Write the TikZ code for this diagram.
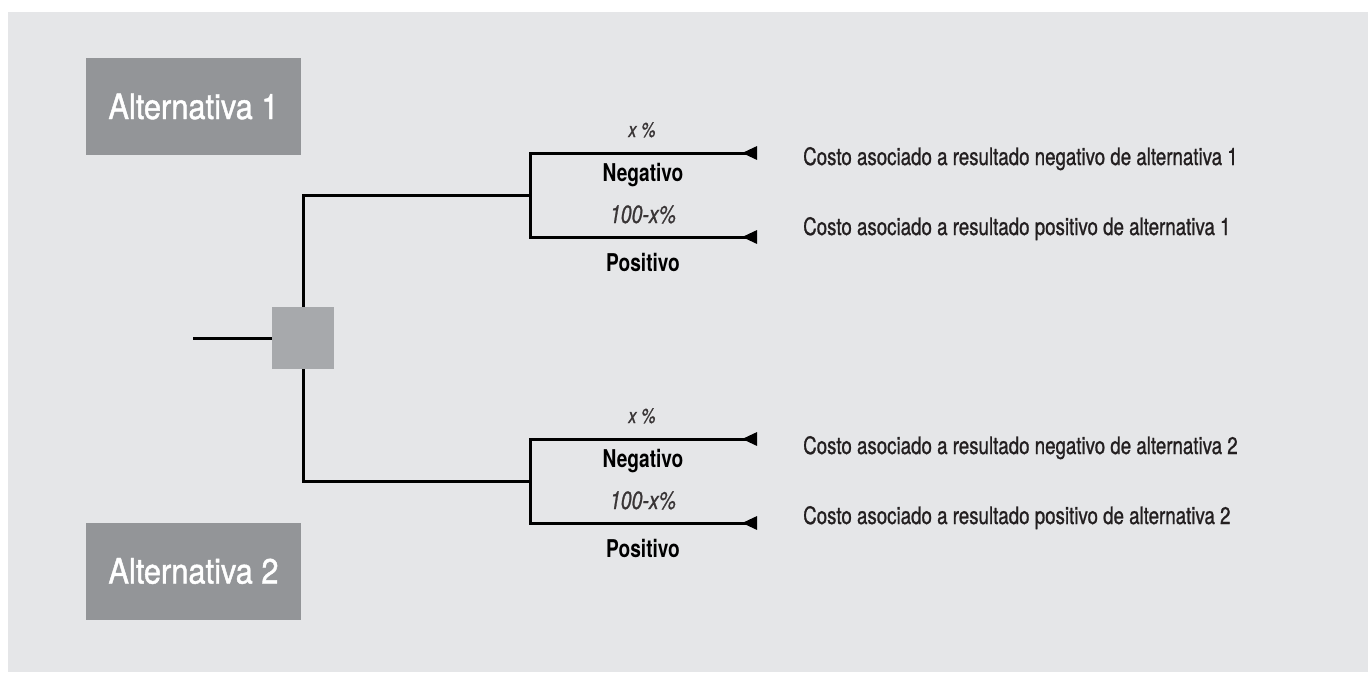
\documentclass[tikz,border=0pt]{standalone}
\usepackage{fontspec}
\setmainfont{TeX Gyre Heros}[FakeStretch=0.78]
\newfontfamily\condfont{TeX Gyre Heros}[FakeStretch=0.78,FakeBold=0.9]
\newfontfamily\altfont{TeX Gyre Heros}[FakeStretch=0.88,FakeBold=1.2]
\usepackage{tikz}
\usetikzlibrary{arrows.meta}
\definecolor{panelgray}{HTML}{E5E6E8}
\definecolor{altgray}{HTML}{939598}
\definecolor{squaregray}{HTML}{A7A9AC}
\definecolor{inkgray}{HTML}{231F20}
\tikzset{
  alt box/.style={fill=altgray,text=white,minimum width=215pt,minimum height=97pt,
    inner sep=0pt,font=\altfont\fontsize{35}{38}\selectfont},
  decision/.style={fill=squaregray,minimum size=62pt,inner sep=0pt},
  branch/.style={draw=black,line width=3pt},
  outcome/.style={branch,-{Triangle[reversed,length=15pt,width=13pt]}},
  prob/.style={anchor=base,inner sep=0pt,text=inkgray!90,font=\condfont\itshape\fontsize{25}{28}\selectfont},
  result/.style={anchor=base,inner sep=0pt,text=black,font=\bfseries\fontsize{24.5}{28}\selectfont},
  cost/.style={anchor=base west,inner sep=0pt,text=inkgray,font=\condfont\fontsize{24}{28}\selectfont},
}

\begin{document}
\begin{tikzpicture}[x=1pt,y=-1pt]
\useasboundingbox (0,0) rectangle (1368,673);
\fill[panelgray] (8,12) rectangle (1368,672);
\node[alt box] (alt1) at (193.5,106.5) {Alternativa 1};
\node[alt box] (alt2) at (193.5,571) {Alternativa 2};
\node[decision] (dec) at (303,338) {};
\coordinate (in) at (193,338);
\coordinate (ch1) at (530,195);
\coordinate (ch2) at (530,481);
\coordinate (neg1) at (757,153);
\coordinate (pos1) at (757,237);
\coordinate (neg2) at (757,439);
\coordinate (pos2) at (757,523);
\draw[branch] (in) -- (dec);
\draw[branch] (dec) |- (ch1);
\draw[branch] (dec) |- (ch2);
\draw[outcome] (ch1) |- (neg1);
\draw[outcome] (ch1) |- (pos1);
\draw[outcome] (ch2) |- (neg2);
\draw[outcome] (ch2) |- (pos2);
% probabilities and results
\node[prob,font=\condfont\itshape\fontsize{21}{24}\selectfont] (px1) at (642,137) {x \%};
\node[result] (rn1) at (643,181) {Negativo};
\node[prob] (pp1) at (643,223) {100-x\%};
\node[result] (rp1) at (643,271) {Positivo};
\node[prob,font=\condfont\itshape\fontsize{21}{24}\selectfont] (px2) at (642,423) {x \%};
\node[result] (rn2) at (643,467) {Negativo};
\node[prob] (pp2) at (643,509) {100-x\%};
\node[result] (rp2) at (643,557) {Positivo};
% costs
\node[cost] (cn1) at (803,165) {Costo asociado a resultado negativo de alternativa 1};
\node[cost] (cp1) at (803,235) {Costo asociado a resultado positivo de alternativa 1};
\node[cost] (cn2) at (803,454) {Costo asociado a resultado negativo de alternativa 2};
\node[cost] (cp2) at (803,524) {Costo asociado a resultado positivo de alternativa 2};
\end{tikzpicture}
\end{document}
